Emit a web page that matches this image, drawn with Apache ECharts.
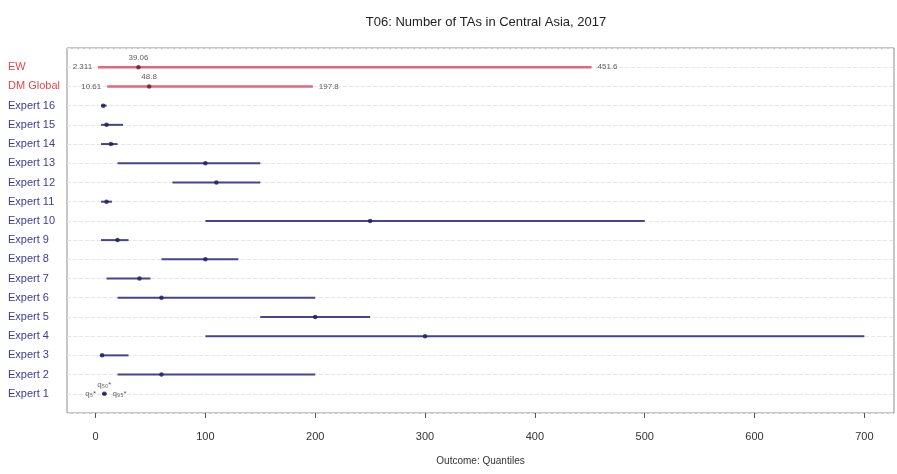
<!DOCTYPE html>
<html>
<head>
<meta charset="utf-8">
<script src="https://cdn.jsdelivr.net/npm/echarts@6/dist/echarts.min.js"></script>
<style>
  html, body { margin: 0; padding: 0; background: #fff; }
  #chart { width: 897px; height: 474px; }
</style>
</head>
<body>
<div id="chart"></div>
<script>
// Rows from bottom (y = 1) to top (y = 18)
const rowNames = ['Expert 1', 'Expert 2', 'Expert 3', 'Expert 4', 'Expert 5', 'Expert 6',
  'Expert 7', 'Expert 8', 'Expert 9', 'Expert 10', 'Expert 11', 'Expert 12', 'Expert 13',
  'Expert 14', 'Expert 15', 'Expert 16', 'DM Global', 'EW'];
// 5%, 50% and 95% quantiles for each row
const q05 = [6, 20, 4, 100, 150, 20, 10, 60, 5, 100, 5, 70, 20, 5, 5, 5, 10.61, 2.311];
const q50 = [8, 60, 6, 300, 200, 60, 40, 100, 20, 250, 10, 110, 100, 14, 10, 7, 48.8, 39.06];
const q95 = [10, 200, 30, 700, 250, 200, 50, 130, 30, 500, 15, 150, 150, 20, 25, 10, 197.8, 451.6];
// rows drawn as combined decision makers (red)
const combinedRows = ['DM Global', 'EW'];
const xTicks = [0, 100, 200, 300, 400, 500, 600, 700];
const quantileTags = ['q\u2085*', 'q\u2085\u2080*', 'q\u2089\u2085*'];

const RED_LINE = '#e0687a';
const RED_TEXT = '#e5464f';
const BLUE_LINE = '#45458f';
const BLUE_TEXT = '#3a3a9c';
const FONT = 'Liberation Sans, Arial, sans-serif';

const isCombined = name => combinedRows.indexOf(name) >= 0;

const rangeData = rowNames.map((n, i) => [q05[i], q95[i], i + 1]);
const medianData = rowNames.map((n, i) => ({
  value: [q50[i], i + 1],
  itemStyle: { color: isCombined(n) ? '#5e1c2e' : '#1c1c5c' },
  label: isCombined(n) ? { show: true, position: 'top', distance: 3 } :
    (n === 'Expert 1' ? { show: true, position: 'top', distance: 3, formatter: quantileTags[1] } : { show: false })
}));

// end labels for combined rows and quantile tags for Expert 1
const lowLabels = [];
const highLabels = [];
rowNames.forEach((n, i) => {
  if (isCombined(n)) {
    lowLabels.push({ value: [q05[i], i + 1] });
    highLabels.push({ value: [q95[i], i + 1] });
  } else if (n === 'Expert 1') {
    lowLabels.push({ value: [q05[i], i + 1], label: { formatter: quantileTags[0] } });
    highLabels.push({ value: [q95[i], i + 1], label: { formatter: quantileTags[2] } });
  }
});

const smallLabel = { fontSize: 8, color: '#333', fontFamily: FONT };

const chart = echarts.init(document.getElementById('chart'), null, { renderer: 'canvas' });
chart.setOption({
  animation: false,
  backgroundColor: '#fff',
  title: {
    text: 'T06: Number of TAs in Central Asia, 2017',
    left: 481, top: 11, textAlign: 'center',
    textStyle: { fontSize: 13, fontWeight: 'normal', color: '#222', fontFamily: FONT }
  },
  grid: {
    left: 67, right: 3, top: 48, bottom: 61,
    show: true, borderColor: '#8c8c8c', borderWidth: 1, backgroundColor: 'transparent'
  },
  xAxis: {
    type: 'value', min: -26, max: 727, offset: 3,
    axisLine: { show: false },
    axisTick: { show: true, length: 5, customValues: xTicks, lineStyle: { color: '#555' } },
    axisLabel: { customValues: xTicks, margin: 15, fontSize: 11, color: '#333', fontFamily: FONT },
    splitLine: { show: false },
    name: 'Outcome: Quantiles', nameLocation: 'middle', nameGap: 40,
    nameTextStyle: { fontSize: 10, color: '#333', fontFamily: FONT }
  },
  yAxis: {
    type: 'value', min: 0, max: 19, interval: 1,
    axisLine: { show: false },
    axisTick: { show: false },
    axisLabel: {
      align: 'left', margin: 59, fontSize: 11, fontFamily: FONT,
      formatter: v => {
        const n = rowNames[v - 1];
        if (!n) return '';
        return isCombined(n) ? '{r|' + n + '}' : '{b|' + n + '}';
      },
      rich: {
        r: { color: RED_TEXT, fontSize: 11, fontFamily: FONT },
        b: { color: BLUE_TEXT, fontSize: 11, fontFamily: FONT }
      }
    },
    splitLine: { show: true, lineStyle: { color: '#e6e6e6', width: 1, type: [4, 2] } }
  },
  series: [
    {
      type: 'custom',
      data: rangeData,
      z: 2,
      renderItem: (params, api) => {
        const y = api.value(2);
        const p0 = api.coord([api.value(0), y]);
        const p1 = api.coord([api.value(1), y]);
        const red = isCombined(rowNames[y - 1]);
        return {
          type: 'line',
          shape: { x1: p0[0], y1: p0[1], x2: p1[0], y2: p1[1] },
          style: { stroke: red ? RED_LINE : BLUE_LINE, lineWidth: red ? 2.5 : 2 }
        };
      }
    },
    {
      type: 'scatter',
      data: medianData,
      symbol: 'circle', symbolSize: 4.5, z: 3,
      label: Object.assign({ formatter: p => String(p.value[0]) }, smallLabel)
    },
    {
      type: 'scatter',
      data: lowLabels,
      symbolSize: 0, z: 4,
      label: Object.assign({ show: true, position: 'left', distance: 6, formatter: p => String(p.value[0]) }, smallLabel)
    },
    {
      type: 'scatter',
      data: highLabels,
      symbolSize: 0, z: 4,
      label: Object.assign({ show: true, position: 'right', distance: 6, formatter: p => String(p.value[0]) }, smallLabel)
    }
  ]
});
</script>
</body>
</html>
